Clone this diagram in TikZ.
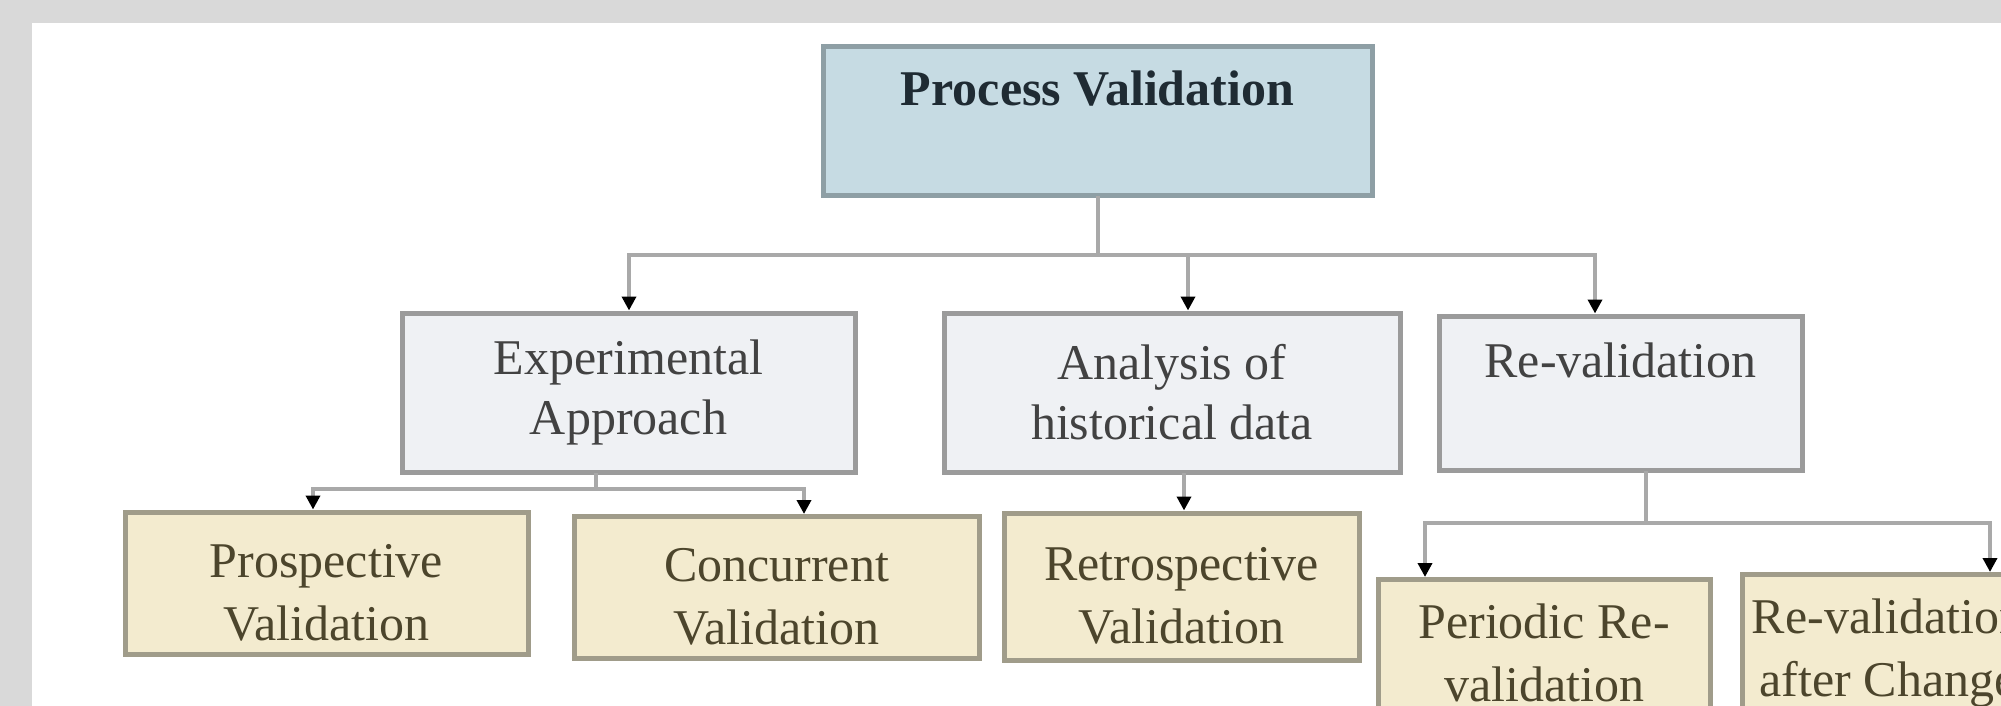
\documentclass[tikz,border=0pt]{standalone}
\usepackage{fontspec}
\setmainfont{Liberation Serif}
\usetikzlibrary{arrows.meta}
\definecolor{bgc}{HTML}{D9D9D9}
\definecolor{pvfill}{HTML}{C6DBE3}
\definecolor{pvborder}{HTML}{8E9FA5}
\definecolor{pvtext}{HTML}{1F2B33}
\definecolor{midfill}{HTML}{EFF1F4}
\definecolor{midborder}{HTML}{9B9B9B}
\definecolor{midtext}{HTML}{424242}
\definecolor{lowfill}{HTML}{F3EBCF}
\definecolor{lowborder}{HTML}{A09C8A}
\definecolor{lowtext}{HTML}{4C452C}
\definecolor{linecol}{HTML}{A9A9A9}
\newcommand{\lowtwo}[3][32.5pt]{\rule{0pt}{#1}#2\\#3\rule[-7pt]{0pt}{7pt}}
\begin{document}
\begin{tikzpicture}[x=0.5pt,y=-0.5pt,
  box/.style={draw, line width=2.5pt, align=center, inner sep=0pt,
    font=\fontsize{25}{30}\selectfont},
  topbox/.style={box, draw=pvborder, fill=pvfill, text=pvtext,
    font=\fontsize{25}{30}\selectfont\bfseries},
  midbox/.style={box, draw=midborder, fill=midfill, text=midtext},
  lowbox/.style={box, draw=lowborder, fill=lowfill, text=lowtext,
    font=\fontsize{25}{31.5}\selectfont},
  conn/.style={draw=linecol, line width=2pt, line cap=rect},
  arr/.style={conn, -{Triangle[length=7pt,width=7pt,color=black]}}
]
\useasboundingbox (0,0) rectangle (2001,706);
\fill[bgc] (0,0) rectangle (2001,706);
\fill[white] (32,23) rectangle (2001,706);

% nodes
\node[topbox, minimum width=274.5pt, minimum height=74pt] (pv) at (1097.5,121) {Process Validation\\[-6pt]\strut};
\node[midbox, minimum width=226.5pt, minimum height=79.5pt] (exp) at (628.5,392.5) {Experimental\\Approach};
\node[midbox, minimum width=228pt, minimum height=79.5pt] (ana) at (1172,392.5) {Analysis of\\historical data};
\node[midbox, minimum width=181.5pt, minimum height=77pt] (rev) at (1620.5,393) {Re-validation\\[-6pt]\strut};
\node[lowbox, minimum width=201.5pt, minimum height=70pt] (pro) at (326.5,583) {\lowtwo{Prospective}{Validation}};
\node[lowbox, minimum width=202.5pt, minimum height=70pt] (con) at (776.5,587.5) {\lowtwo{Concurrent}{Validation}};
\node[lowbox, minimum width=177.5pt, minimum height=73.5pt] (ret) at (1181.5,586.5) {\lowtwo{Retrospective}{Validation}};
\node[lowbox, minimum width=166pt, minimum height=68pt, anchor=north] (per) at (1544,577) {\lowtwo[29.5pt]{Periodic Re-}{validation}};
\node[lowbox, minimum width=146pt, minimum height=68pt, anchor=north] (rac) at (1888,572) {\lowtwo[29.5pt]{Re-validation}{after Change}};

% connectors from Process Validation
\coordinate (hL) at (629,255);
\coordinate (hM) at (1188,255);
\coordinate (hR) at (1595,255);
\draw[conn] (pv.south) -- (pv.south |- hL);
\draw[conn] (hL) -- (hR);
\draw[arr] (hL) -- (hL |- exp.north);
\draw[arr] (hM) -- (hM |- ana.north);
\draw[arr] (hR) -- (hR |- rev.north);

% Experimental children
\coordinate (eM) at (596,489);
\coordinate (eL) at (313,489);
\coordinate (eR) at (804,489);
\draw[conn] (eM |- exp.south) -- (eM);
\draw[conn] (eL) -- (eR);
\draw[arr] (eL) -- (eL |- pro.north);
\draw[arr] (eR) -- (eR |- con.north);

% Analysis child
\coordinate (aM) at (1184,480);
\draw[arr] (aM |- ana.south) -- (aM |- ret.north);

% Re-validation children
\coordinate (rM) at (1646,523);
\coordinate (rL) at (1425,523);
\coordinate (rR) at (1990,523);
\draw[conn] (rM |- rev.south) -- (rM);
\draw[conn] (rL) -- (rR);
\draw[arr] (rL) -- (rL |- per.north);
\draw[arr] (rR) -- (rR |- rac.north);
\end{tikzpicture}
\end{document}
